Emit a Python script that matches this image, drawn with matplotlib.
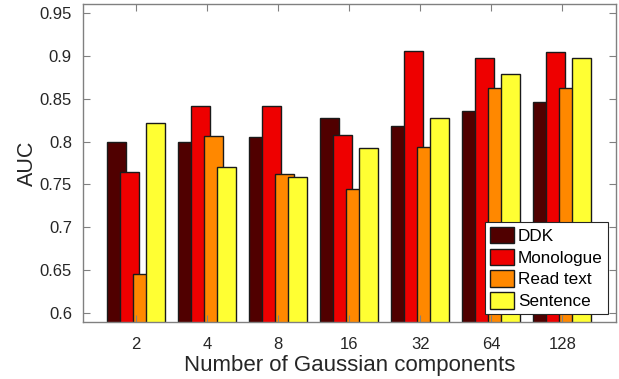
import matplotlib
matplotlib.use("Agg")
import matplotlib.pyplot as plt
import numpy as np

categories = ["2", "4", "8", "16", "32", "64", "128"]
series_names = ["DDK", "Monologue", "Read text", "Sentence"]
ddk = [0.800, 0.799, 0.805, 0.827, 0.818, 0.836, 0.846]
monologue = [0.764, 0.842, 0.842, 0.808, 0.906, 0.898, 0.904]
read_text = [0.645, 0.806, 0.762, 0.745, 0.794, 0.863, 0.862]
sentence = [0.822, 0.770, 0.759, 0.793, 0.828, 0.879, 0.898]
colors = ["#500000", "#ee0000", "#ff8800", "#ffff33"]

plt.rcParams['font.family'] = ['Liberation Sans', 'DejaVu Sans']
fig = plt.figure(figsize=(6.19, 3.79), dpi=100)
ax = fig.add_axes([83/619, 1-322/379, (615.5-83)/619, (322-4)/379])

x = np.arange(1, len(categories)+1)
offsets = [-0.275, -0.092, 0.092, 0.275]
width = 0.268
for vals, off, c, name in zip([ddk, monologue, read_text, sentence], offsets, colors, series_names):
    ax.bar(x + off, vals, width=width, color=c, edgecolor="#1a1a1a", linewidth=1.0, label=name)

ax.set_xlim(0.25, 7.75)
ax.set_ylim(0.5895, 0.9605)
ax.set_xticks(x)
ax.set_xticklabels(categories)
ax.set_yticks([0.6, 0.65, 0.7, 0.75, 0.8, 0.85, 0.9, 0.95])
ax.set_yticklabels(["0.6", "0.65", "0.7", "0.75", "0.8", "0.85", "0.9", "0.95"])
ax.tick_params(direction="in", top=True, right=True, length=5, width=0.8,
               color="#808080", labelsize=12, labelcolor="#262626")
ax.tick_params(axis="y", pad=8)
ax.tick_params(axis="x", pad=11)
for s in ax.spines.values():
    s.set_color("#808080")
    s.set_linewidth(1.0)
ax.set_xlabel("Number of Gaussian components", fontsize=16, color="#262626", labelpad=2)
ax.set_ylabel("AUC", fontsize=15.5, color="#262626", labelpad=1)

leg = ax.legend(loc="lower right", fontsize=12.3, frameon=True, fancybox=False,
                edgecolor="#262626", framealpha=1, borderpad=0.3, labelspacing=0.28,
                handlelength=1.45, handleheight=1.1, handletextpad=0.2,
                borderaxespad=0.45)
leg.get_frame().set_linewidth(0.8)

fig.savefig("out.png", dpi=100)
